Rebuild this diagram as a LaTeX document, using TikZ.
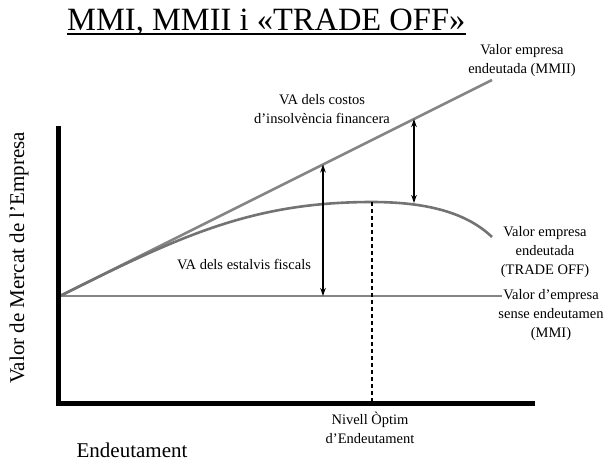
\documentclass[tikz,border=0pt]{standalone}
\usepackage{fontspec}
\setmainfont{Liberation Serif}
\usetikzlibrary{arrows.meta}
\definecolor{linegray}{HTML}{858585}
\definecolor{curvegray}{HTML}{737373}
\tikzset{
  grayline/.style={draw=linegray, line width=2.6pt},
  curveline/.style={draw=curvegray, line width=2.6pt},
  axisline/.style={draw=black, line width=4.5pt, line join=miter},
  gapline/.style={draw=black, line width=1.2pt, {Stealth[length=8pt,width=5.5pt]}-{Stealth[length=8pt,width=5.5pt]}},
  optline/.style={draw=black, line width=1.2pt, dash pattern=on 4pt off 3pt},
  lbl/.style={font=\fontsize{14.5}{19}\selectfont, align=center, inner sep=0pt, anchor=base},
  biglbl/.style={font=\fontsize{21}{25}\selectfont, inner sep=0pt, anchor=base},
}
\begin{document}
\begin{tikzpicture}[x=1pt,y=-1pt]
\useasboundingbox (0,0) rectangle (611,464);
% title
\node[font=\fontsize{32.5}{36}\selectfont, inner sep=0pt, anchor=base west] (title) at (67,30) {MMI, MMII i «TRADE OFF»};
\draw[line width=1.5pt] ([yshift=-4pt]title.base west) coordinate (ulA) -- ([yshift=-4pt]title.base east) coordinate (ulB);
% key points
\coordinate (O) at (60,296);
\coordinate (mmiEnd) at (502,296);
\coordinate (mmiiEnd) at (492,80);
\coordinate (peak) at (372,202);
\coordinate (toEnd) at (492,237);
\coordinate (yTop) at (58.5,126);
\coordinate (corner) at (58.5,403.5);
\coordinate (xEnd) at (535,403.5);
\coordinate (optBase) at (372,403.5);
\coordinate (a1b) at (323,296);
\coordinate (a1t) at (323,164.5);
\coordinate (a2t) at (414,119);
\coordinate (a2b) at (414,203);
% lines
\draw[grayline] (O) -- (mmiEnd);
\draw[grayline] (O) -- (mmiiEnd);
\draw[curveline] (O) .. controls (180,236) and (252,202) .. (peak)
                      .. controls (430,202) and (468,214) .. (toEnd);
\draw[optline] (peak) -- (optBase);
\draw[gapline] (a1b) -- (a1t);
\draw[gapline] (a2t) -- (a2b);
\draw[axisline] (yTop) -- (corner) -- (xEnd);
% labels (anchor=base is the baseline of the last line)
\node[lbl] (costos) at (322,123) {VA dels costos\\d’insolvència financera};
\node[lbl] (mmii) at (522,73) {Valor empresa\\endeutada (MMII)};
\node[lbl] (trade) at (545,274) {Valor empresa\\endeutada\\(TRADE OFF)};
\node[lbl] (mmi) at (551,337) {Valor d’empresa\\sense endeutamen\\(MMI)};
\node[lbl] (estalvis) at (244,269) {VA dels estalvis fiscals};
\node[lbl] (nivell) at (370,443) {Nivell Òptim\\d’Endeutament};
\node[biglbl] (xlab) at (132,457) {Endeutament};
\node[biglbl, rotate=90] (ylab) at (24,258) {Valor de Mercat de l’Empresa};
\end{tikzpicture}
\end{document}
